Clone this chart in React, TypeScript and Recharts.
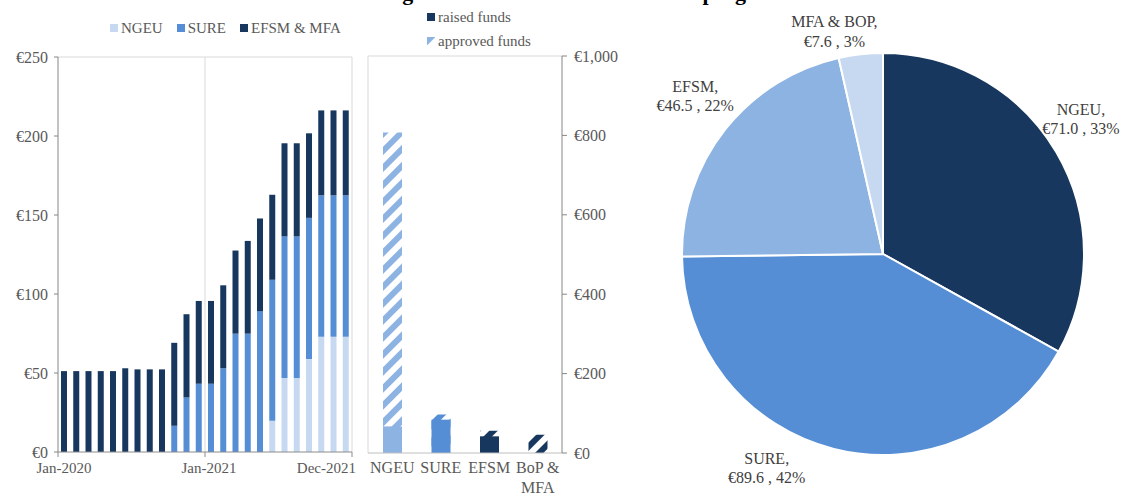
import React from 'react'
import { BarChart, Bar, XAxis, YAxis, ReferenceLine, Cell, PieChart, Pie } from 'recharts'

const FONT = '"Liberation Serif", "Times New Roman", serif'
const GREY = '#595959'

// left panel: cumulative borrowing by month, € bn
const months = [
  'Jan-2020', 'Feb-2020', 'Mar-2020', 'Apr-2020', 'May-2020', 'Jun-2020',
  'Jul-2020', 'Aug-2020', 'Sep-2020', 'Oct-2020', 'Nov-2020', 'Dec-2020',
  'Jan-2021', 'Feb-2021', 'Mar-2021', 'Apr-2021', 'May-2021', 'Jun-2021',
  'Jul-2021', 'Aug-2021', 'Sep-2021', 'Oct-2021', 'Nov-2021', 'Dec-2021',
]
const ngeu = [0, 0, 0, 0, 0, 0, 0, 0, 0, 0, 0, 0, 0, 0, 0, 0, 0, 19.8, 46.9, 46.9, 58.8, 72.9, 72.9, 72.9]
const sure = [0, 0, 0, 0, 0, 0, 0, 0, 0, 16.6, 34.5, 43.2, 43.2, 53, 74.9, 74.9, 89.2, 89.2, 89.6, 89.6, 89.4, 89.5, 89.5, 89.5]
const efsmMfa = [51.2, 51.2, 51.2, 51.2, 51.2, 53, 52.3, 52.3, 52.3, 52.5, 52.7, 52.4, 52.4, 52.5, 52.6, 58.7, 58.6, 53.8, 58.9, 58.9, 53.5, 53.8, 53.8, 53.8]
const timeTicks = ['Jan-2020', 'Jan-2021', 'Dec-2021']

// middle panel: raised vs approved, € bn
const programs = ['NGEU', 'SURE', 'EFSM', 'BoP & MFA']
const raised = [67, 84, 42, 0]
const approved = [807, 97, 56, 46]

// right panel: share of funds raised
const pieNames = ['NGEU', 'SURE', 'EFSM', 'MFA & BOP']
const pieValues = [71.0, 89.6, 46.5, 7.6]
const piePct = [33, 42, 22, 3]

const C_DARK = '#17375e'
const C_MID = '#558ed5'
const C_SOFT = '#8db3e2'
const C_LIGHT = '#c6d9f1'

const programColors = [C_SOFT, C_MID, C_DARK, C_DARK]
const pieColors = [C_DARK, C_MID, C_SOFT, C_LIGHT]

const monthly = months.map((m, i) => ({ m, i, ngeu: ngeu[i], sure: sure[i], efsm: efsmMfa[i] }))
const funds = programs.map((p, i) => ({ p, i, raised: raised[i], approved: approved[i] }))
const pieData = pieNames.map((name, i) => ({ name, value: pieValues[i], pct: piePct[i] }))

const leftLegend = [
  { label: 'NGEU', fill: C_LIGHT },
  { label: 'SURE', fill: C_MID },
  { label: 'EFSM & MFA', fill: C_DARK },
]
const midLegend = [
  { label: 'raised funds', fill: C_DARK },
  { label: 'approved funds', fill: 'url(#hatch0)' },
]

const euro = (v: number) => '€' + v.toLocaleString('en-US')

function TimeTick({ x, y, payload, index }: any) {
  const last = index === timeTicks.length - 1
  return (
    <text x={x + (last ? 4 : index === 0 ? 6 : 4)} y={y} dy="0.71em" textAnchor={last ? 'end' : 'middle'}
      fill={GREY} fontSize={15} fontFamily={FONT}>
      {timeTicks[index] ?? payload.value}
    </text>
  )
}

function ProgTick({ x, y, payload }: any) {
  const lines = String(payload.value).split(/(?<=&) /)
  return (
    <text x={x} y={y} textAnchor="middle" fill={GREY} fontSize={16} fontFamily={FONT}>
      {lines.map((l, k) => (
        <tspan key={k} x={x} dy={k === 0 ? '0.71em' : '1.2em'}>{l}</tspan>
      ))}
    </text>
  )
}

function LegendBox({ items, vertical, style }: any) {
  return (
    <div style={{ position: 'absolute', display: 'flex', flexDirection: vertical ? 'column' : 'row', gap: vertical ? 6 : 14, fontFamily: FONT, color: GREY, fontSize: 15, ...style }}>
      {items.map((it: any) => (
        <div key={it.label} style={{ display: 'flex', alignItems: 'center', lineHeight: '18px', whiteSpace: 'nowrap' }}>
          <svg width={8} height={8} style={{ marginRight: 3 }}>
            <rect width={8} height={8} fill={it.fill} />
          </svg>
          {it.label}
        </div>
      ))}
    </div>
  )
}

function pieLabel(props: any) {
  const { cx, cy, midAngle, outerRadius, index, payload } = props
  // Excel's best-fit placement, nudged per slice
  const nudge = [[-3.6, 38], [14.3, 43], [1.7, 44], [-6, 26]][index]
  const a = ((90 - midAngle + nudge[0]) * Math.PI) / 180
  const r = outerRadius + nudge[1]
  const x = cx + r * Math.sin(a)
  const y = cy - r * Math.cos(a)
  return (
    <text x={x} y={y} textAnchor="middle" fill="#404040" fontSize={16} fontFamily={FONT}>
      <tspan x={x} dy="-0.3em">{payload.name},</tspan>
      <tspan x={x} dy="1.2em">{`€${payload.value.toFixed(1)} , ${payload.pct}%`}</tspan>
    </text>
  )
}

export default function App() {
  return (
    <div style={{ position: 'absolute', left: 0, top: 0, width: 1130, height: 497, background: '#fff', overflow: 'hidden' }}>
      <div style={{ position: 'absolute', left: 261, top: -18, fontFamily: FONT, fontWeight: 'bold', fontSize: 22, lineHeight: '22px', whiteSpace: 'nowrap', color: '#000' }}>
        Total borrowing of the EU under its main debt programs
      </div>

      <div style={{ position: 'absolute', left: 0, top: 0 }}>
        <BarChart width={360} height={497} data={monthly} margin={{ top: 57, right: 8, left: 0, bottom: 15 }}>
          <XAxis dataKey="m" hide height={0} />
          <XAxis xAxisId="t" dataKey="i" type="number" domain={[0, 24]} ticks={[0, 12, 24]} allowDataOverflow
            height={30} axisLine={{ stroke: '#8c8c8c' }} tickLine={{ stroke: '#8c8c8c' }} tickSize={5} tickMargin={5}
            tick={<TimeTick />} interval={0} />
          <YAxis width={58} domain={[0, 250]} ticks={[0, 50, 100, 150, 200, 250]} tickFormatter={euro}
            axisLine={{ stroke: '#868686' }} tickLine={{ stroke: '#868686' }} tickSize={4} tickMargin={6}
            tick={{ fill: GREY, fontSize: 16, fontFamily: FONT }} />
          <ReferenceLine y={250} stroke="#d9d9d9" />
          <ReferenceLine xAxisId="t" x={12} stroke="#d9d9d9" />
          <ReferenceLine xAxisId="t" x={24} stroke="#d9d9d9" />
          <Bar dataKey="ngeu" name="NGEU" stackId="a" fill={C_LIGHT} barSize={6} isAnimationActive={false} />
          <Bar dataKey="sure" name="SURE" stackId="a" fill={C_MID} barSize={6} isAnimationActive={false} />
          <Bar dataKey="efsm" name="EFSM & MFA" stackId="a" fill={C_DARK} barSize={6} isAnimationActive={false} />
        </BarChart>
      </div>
      <LegendBox items={leftLegend} style={{ left: 110, top: 19 }} />

      <div style={{ position: 'absolute', left: 360, top: 0 }}>
        <BarChart width={260} height={497} data={funds} margin={{ top: 56, right: 0, left: 8, bottom: 14 }} barGap={-19}>
          <defs>
            {programColors.map((c, i) => (
              <pattern key={i} id={`hatch${i}`} width={12} height={12} patternUnits="userSpaceOnUse" patternTransform="rotate(45)">
                <rect width={12} height={12} fill="#fff" />
                <rect width={6} height={12} fill={c} />
              </pattern>
            ))}
          </defs>
          <XAxis dataKey="p" height={30} interval={0} axisLine={{ stroke: '#bfbfbf' }} tickLine={false}
            tickSize={6} tickMargin={3} tick={<ProgTick />} />
          <XAxis xAxisId="e" dataKey="i" type="number" domain={[0, 4]} hide height={0} allowDataOverflow />
          <YAxis orientation="right" width={58} domain={[0, 1000]} ticks={[0, 200, 400, 600, 800, 1000]} tickFormatter={euro}
            axisLine={{ stroke: '#868686' }} tickLine={{ stroke: '#868686' }} tickSize={5} tickMargin={7}
            tick={{ fill: GREY, fontSize: 16, fontFamily: FONT, textAnchor: 'start' }} />
          <ReferenceLine y={1000} stroke="#d9d9d9" />
          <ReferenceLine xAxisId="e" x={0} stroke="#d9d9d9" />
          <Bar dataKey="approved" name="approved funds" fill="url(#hatch0)" barSize={19} isAnimationActive={false}>
            {funds.map((f, i) => <Cell key={f.p} fill={`url(#hatch${i})`} />)}
          </Bar>
          <Bar dataKey="raised" name="raised funds" fill={C_DARK} barSize={19} isAnimationActive={false}>
            {funds.map((f, i) => <Cell key={f.p} fill={programColors[i]} />)}
          </Bar>
        </BarChart>
      </div>
      <LegendBox items={midLegend} vertical style={{ left: 427, top: 8 }} />

      <div style={{ position: 'absolute', left: 620, top: 0 }}>
        <PieChart width={510} height={497}>
          <Pie data={pieData} dataKey="value" nameKey="name" cx={258} cy={249} outerRadius={201}
            startAngle={90} endAngle={-270} stroke="#fff" strokeWidth={2} labelLine={false} label={pieLabel}
            isAnimationActive={false}>
            {pieData.map((d, i) => <Cell key={d.name} fill={pieColors[i]} />)}
          </Pie>
        </PieChart>
      </div>
    </div>
  )
}
